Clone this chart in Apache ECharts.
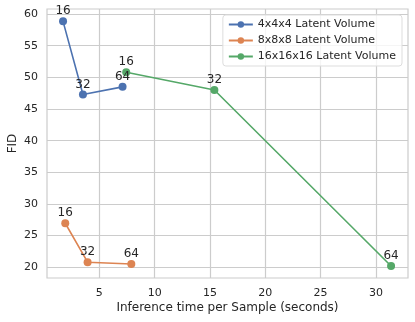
<!DOCTYPE html>
<html><head><meta charset="utf-8">
<script src="https://cdn.jsdelivr.net/npm/echarts@6/dist/echarts.min.js"></script>
<style>html,body{margin:0;padding:0;background:#fff}#c{width:415px;height:322px}</style>
</head><body><div id="c"></div>
<script>
const seriesNames = ['4x4x4 Latent Volume', '8x8x8 Latent Volume', '16x16x16 Latent Volume'];
const pointLabels = ['16', '32', '64'];
const time4 = [1.72, 3.52, 7.1];
const fid4 = [58.85, 47.3, 48.5];
const time8 = [1.92, 3.94, 7.89];
const fid8 = [26.95, 20.8, 20.5];
const time16 = [7.43, 15.4, 31.37];
const fid16 = [50.8, 48.0, 20.2];
const xTicks = [5, 10, 15, 20, 25, 30];
const yTicks = [20, 25, 30, 35, 40, 45, 50, 55, 60];
const colors = ['#4c72b0', '#dd8452', '#55a868'];
const font = 'DejaVu Sans';
const txt = '#262626';

function mk(xs, ys) { return xs.map((x, i) => [x, ys[i], pointLabels[i]]); }
const sets = [mk(time4, fid4), mk(time8, fid8), mk(time16, fid16)];

const chart = echarts.init(document.getElementById('c'));
chart.setOption({
  animation: false,
  backgroundColor: '#fff',
  color: colors,
  grid: { left: 47, right: 7, top: 9, bottom: 44, show: true, borderColor: '#cccccc', borderWidth: 1.2, containLabel: false, outerBoundsMode: 'none' },
  legend: {
    orient: 'vertical', right: 13, top: 15,
    itemWidth: 24, itemHeight: 8, itemGap: 5,
    backgroundColor: 'rgba(255,255,255,0.8)', borderColor: '#dddddd', borderWidth: 1, borderRadius: 3,
    padding: [4, 6, 4, 5],
    textStyle: { fontFamily: font, fontSize: 11, color: txt },
    data: seriesNames
  },
  xAxis: {
    type: 'value', min: 0.27, max: 32.9,
    name: 'Inference time per Sample (seconds)', nameLocation: 'middle', nameGap: 24, nameMoveOverlap: false,
    nameTextStyle: { fontFamily: font, fontSize: 12, color: txt },
    axisLine: { show: false },
    axisTick: { show: false, customValues: xTicks },
    axisLabel: { customValues: xTicks, fontFamily: font, fontSize: 11, color: txt, margin: 10 },
    splitLine: { show: true, lineStyle: { color: '#cccccc', width: 1.2 } }
  },
  yAxis: {
    type: 'value', min: 18.3, max: 60.8,
    name: 'FID', nameLocation: 'middle', nameGap: 28, nameRotate: 90, nameMoveOverlap: false,
    nameTextStyle: { fontFamily: font, fontSize: 12, color: txt },
    axisLine: { show: false },
    axisTick: { show: false, customValues: yTicks },
    axisLabel: { customValues: yTicks, fontFamily: font, fontSize: 11, color: txt, margin: 9 },
    splitLine: { show: true, lineStyle: { color: '#cccccc', width: 1.2 } }
  },
  series: sets.map((d, i) => ({
    name: seriesNames[i], type: 'line', data: d,
    symbol: 'circle', symbolSize: 8,
    lineStyle: { width: 1.6, color: colors[i] },
    itemStyle: { color: colors[i] },
    label: { show: true, position: 'top', distance: 0, formatter: p => p.data[2], fontFamily: font, fontSize: 12, color: txt },
    z: i === 2 ? 1 : 2
  }))
});
</script></body></html>
